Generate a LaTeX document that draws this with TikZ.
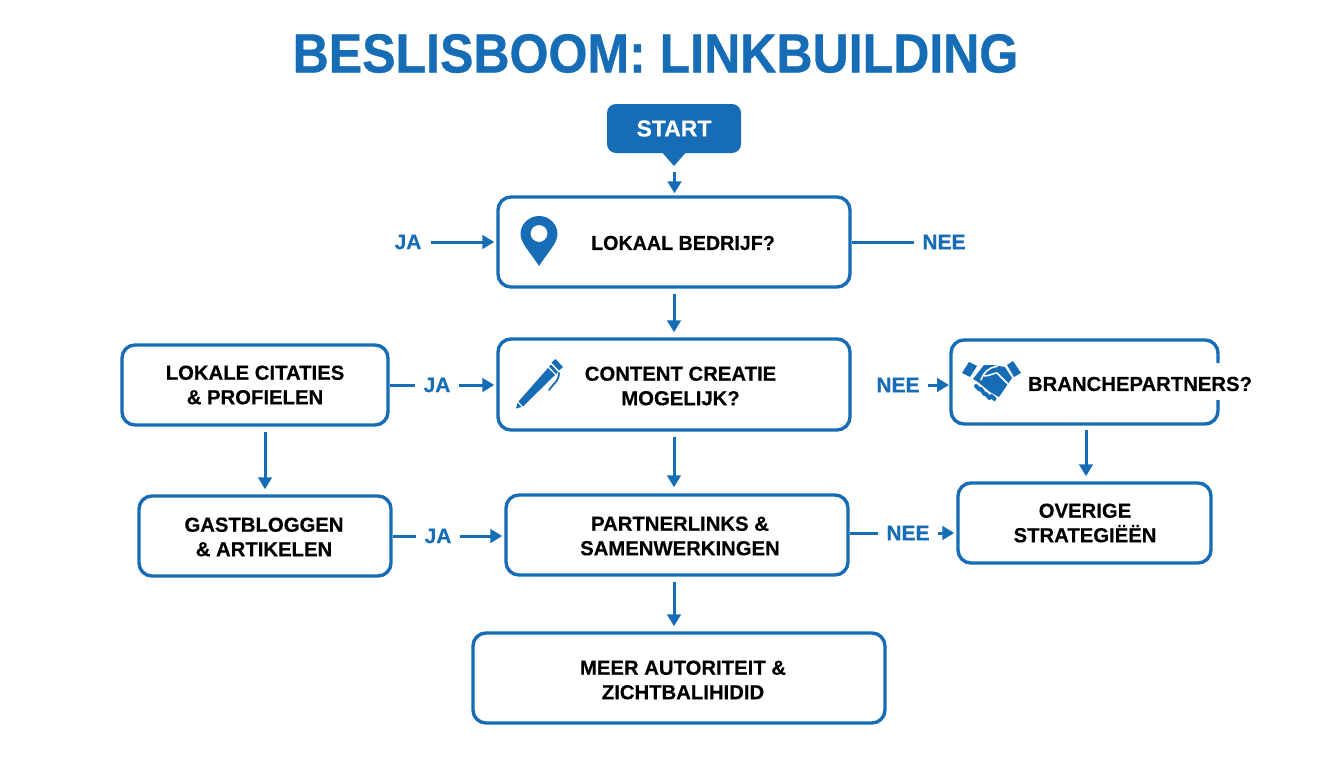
\documentclass[tikz,border=0pt]{standalone}
\usepackage{fontspec}
\usepackage{graphicx}
\setmainfont{Liberation Sans}
\newfontface\heavy{Liberation Sans Bold}[FakeBold=0.35]
\newfontface\ttlface{Liberation Sans Bold}[FakeBold=0.7]
\usetikzlibrary{arrows.meta}
\definecolor{bl}{HTML}{166DB6}
\tikzset{x=1pt,y=-1pt,
 txt/.style={align=center,font=\fontsize{20.3}{24.5}\heavy,text=black,inner sep=0pt},
 box/.style={draw=bl,line width=3.4pt,rounded corners=13pt,fill=white,inner sep=0pt},
 lab/.style={text=bl,font=\fontsize{21}{25}\heavy,inner sep=0pt},
 conn/.style={draw=bl,line width=3pt},
 arr/.style={conn,-{Triangle[length=12pt,width=13.5pt]}},
}
\newcommand{\bx}[5]{\node[box,minimum width=#4pt-#2pt-2pt,minimum height=#5pt-#3pt-2pt] (#1) at ({(#2+#4)/2},{(#3+#5)/2}) {};}
\begin{document}
\begin{tikzpicture}
\useasboundingbox (0,0) rectangle (1344,768);
\fill[white] (0,0) rectangle (1344,768);
\node[text=bl,inner sep=0pt] (title) at (655.5,53.5) {\scalebox{0.91}[1]{\fontsize{55}{60}\ttlface BESLISBOOM: LINKBUILDING}};
% start
\fill[bl] (660,150) -- (674,166) -- (688,150) -- cycle;
\coordinate (starttip) at (674.5,166);
\node[fill=bl,rounded corners=9pt,text=white,inner sep=0pt,minimum width=134pt,minimum height=49pt,font=\fontsize{23}{27}\heavy] (start) at (674,128.5) {START};
% boxes
\bx{lokaal}{497}{196}{851}{288}
\node[txt] (lokaaltxt) at (683,243) {\scalebox{0.97}[1]{LOKAAL BEDRIJF?}};
\bx{content}{497}{338}{851}{431}
\node[txt] (contenttxt) at (680.5,386) {CONTENT CREATIE\\MOGELIJK?};
\bx{lokale}{121}{344}{389}{426}
\node[txt] (lokaletxt) at (255,385) {LOKALE CITATIES\\\& PROFIELEN};
\bx{gast}{138}{495}{392}{577}
\node[txt] (gasttxt) at (264,537) {GASTBLOGGEN\\\& ARTIKELEN};
\bx{partner}{505}{494}{849}{576}
\node[txt] (partnertxt) at (680,536) {PARTNERLINKS \&\\SAMENWERKINGEN};
\bx{overige}{957}{482}{1212}{564}
\node[txt] (overigetxt) at (1085,523) {OVERIGE\\STRATEGIËËN};
\bx{meer}{472}{632}{886}{724}
\node[txt] (meertxt) at (683,680) {MEER AUTORITEIT \&\\ZICHTBALIHIDID};
% branche: border opened where the text runs over it
\coordinate (brancheS) at (1086,424);
\coordinate (brancheW) at (951,384);
\draw[draw=bl,line width=3.4pt,rounded corners=13pt] (1218,363) -- (1218,340) -- (951,340) -- (951,424) -- (1218,424) -- (1218,400);
\node[txt] (branchetxt) at (1140,384) {BRANCHEPARTNERS?};
% labels
\node[lab] (jaA) at (408,242) {JA};
\node[lab] (neeA) at (944,242) {NEE};
\node[lab] (jaB) at (437,385) {JA};
\node[lab] (neeB) at (898,385) {NEE};
\node[lab] (jaC) at (438,536) {JA};
\node[lab] (neeC) at (908,533) {NEE};
% connectors
\draw[arr,shorten <=6pt,shorten >=2pt] (starttip) -- (starttip |- lokaal.north);
\draw[arr,shorten <=9pt,shorten >=2pt] (jaA.east) -- (jaA.east -| lokaal.west);
\draw[conn,shorten >=8pt] (neeA.west -| lokaal.east) -- (neeA.west);
\draw[arr,xshift=1pt,shorten <=5pt,shorten >=5pt] (lokaal.south) -- (content.north);
\draw[conn,shorten >=8pt] (jaB.west -| lokale.east) -- (jaB.west);
\draw[arr,shorten <=8pt,shorten >=2pt] (jaB.east) -- (jaB.east -| content.west);
\draw[arr,shorten <=8pt,shorten >=2pt] (neeB.east) -- (neeB.east -| brancheW);
\draw[arr,xshift=1pt,shorten <=5pt,shorten >=6pt] (content.south) -- (partner.north -| content.south);
\draw[arr,shorten <=5pt,shorten >=5pt] (gast.north |- lokale.south) -- (gast.north);
\draw[arr,shorten <=6pt,shorten >=5pt] (brancheS) -- (brancheS |- overige.north);
\draw[conn,shorten >=8pt] (jaC.west -| gast.east) -- (jaC.west);
\draw[arr,shorten <=8pt,shorten >=2pt] (jaC.east) -- (jaC.east -| partner.west);
\draw[conn,shorten >=8pt] (neeC.west -| partner.east) -- (neeC.west);
\draw[arr,shorten <=8pt,shorten >=2pt] (neeC.east) -- (neeC.east -| overige.west);
\draw[arr,xshift=1pt,shorten <=5pt,shorten >=5pt] (partner.south -| content.south) -- (meer.north -| content.south);
% pin icon
\fill[bl,even odd rule] (539,266) .. controls (530,252) and (520.5,243) .. (520.5,234) .. controls (520.5,224) and (529,216) .. (539,216) .. controls (549,216) and (557.5,224) .. (557.5,234) .. controls (557.5,243) and (548,252) .. (539,266) -- cycle (547.5,233.5) arc[start angle=0,end angle=360,radius=8.5];
% pen icon
\fill[bl] (516,408.5) -- (517.5,403) -- (521.5,407) -- cycle;
\fill[bl] (518.5,401.5) -- (548,368) -- (555,375) -- (523,406.5) -- cycle;
\fill[bl] (551.5,362.5) -- (555.5,359) -- (563,367) -- (559,370.5) -- cycle;
\fill[bl] (549,366.5) -- (551,364.5) -- (558,372) -- (556,374) -- cycle;
\draw[bl,line width=1.8pt,line cap=round] (559,373) .. controls (559,379) and (556,382) .. (553,385) -- (549,390);
% handshake icon
\fill[bl] (962,373) -- (969,362) -- (977,366) -- (970,377) -- cycle;
\fill[bl] (1007,365) -- (1013,361) -- (1021,373) -- (1014,377) -- cycle;
\fill[bl] (973,379) -- (984,365) -- (993,365) -- (1005,367) -- (1012,378) -- (999,397) -- (990,392) -- (978,382) -- cycle;
\draw[white,line width=1.5pt,line cap=round] (981,380) .. controls (983,373) and (989,367) .. (997,366.5);
\draw[white,line width=1.5pt,line cap=round] (984,376) .. controls (990,376) and (993,373) .. (997,373) -- (1009,385);
\draw[bl,line width=4pt,line cap=round] (976,386) -- (979.5,389.5) (981,389) -- (984.5,394) (986,394) -- (989.5,398) (991.5,396) -- (994.5,399);
\end{tikzpicture}
\end{document}
